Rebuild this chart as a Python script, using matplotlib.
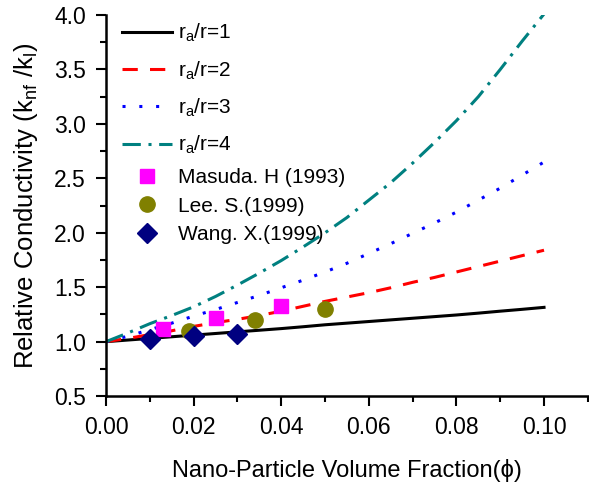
import matplotlib
matplotlib.use('Agg')
import matplotlib.pyplot as plt
from matplotlib.ticker import MultipleLocator, FormatStrFormatter

plt.rcParams['font.family'] = ['Liberation Sans', 'DejaVu Sans']
plt.rcParams['mathtext.fontset'] = 'custom'
plt.rcParams['mathtext.rm'] = 'Liberation Sans'
plt.rcParams['mathtext.it'] = 'Liberation Sans'

# model curves, values
phi = [0.000, 0.005, 0.010, 0.015, 0.020, 0.025, 0.030, 0.035, 0.040, 0.045, 0.050,
       0.055, 0.060, 0.065, 0.070, 0.075, 0.080, 0.085, 0.090, 0.095, 0.100]
k_ratio1 = [1.000, 1.015, 1.030, 1.045, 1.060, 1.075, 1.090, 1.105, 1.120, 1.137, 1.155,
            1.170, 1.185, 1.200, 1.215, 1.230, 1.245, 1.262, 1.280, 1.297, 1.315]
k_ratio2 = [1.000, 1.030, 1.065, 1.100, 1.140, 1.175, 1.205, 1.240, 1.280, 1.325, 1.370,
            1.410, 1.450, 1.495, 1.545, 1.590, 1.640, 1.690, 1.740, 1.790, 1.840]
k_ratio3 = [1.000, 1.050, 1.110, 1.170, 1.235, 1.295, 1.360, 1.425, 1.495, 1.565, 1.640,
            1.720, 1.810, 1.900, 1.995, 2.090, 2.190, 2.300, 2.410, 2.530, 2.650]
k_ratio4 = [1.000, 1.080, 1.165, 1.240, 1.320, 1.415, 1.520, 1.630, 1.745, 1.870, 2.000,
            2.140, 2.300, 2.460, 2.640, 2.830, 3.030, 3.250, 3.500, 3.760, 4.010]

# experimental points
masuda_phi = [0.013, 0.025, 0.040]
masuda_k = [1.12, 1.22, 1.33]
lee_phi = [0.019, 0.034, 0.050]
lee_k = [1.10, 1.20, 1.30]
wang_phi = [0.010, 0.020, 0.030]
wang_k = [1.02, 1.05, 1.07]

fig = plt.figure(figsize=(5.89, 4.86), dpi=100)
ax = fig.add_axes([0.18, 0.185, 0.818, 0.784])

lw = 2.2
l1, = ax.plot(phi, k_ratio1, color='black', lw=lw, label='r$_a$/r=1')
l2, = ax.plot(phi, k_ratio2, color='#ff0000', lw=lw, dashes=(5, 4), label='r$_a$/r=2')
l3, = ax.plot(phi, k_ratio3, color='#0000ff', lw=lw, dashes=(1, 4.5), label='r$_a$/r=3')
l4, = ax.plot(phi, k_ratio4, color='#008080', lw=lw, dashes=(6, 2.5, 1, 2.5), label='r$_a$/r=4')

m1, = ax.plot(masuda_phi, masuda_k, 's', color='#ff00ff', ms=10, ls='none', label='Masuda. H (1993)')
m2, = ax.plot(lee_phi, lee_k, 'o', color='#808000', ms=11, ls='none', label='Lee. S.(1999)')
m3, = ax.plot(wang_phi, wang_k, 'D', color='#000080', ms=10, ls='none', label='Wang. X.(1999)')

ax.set_xlim(0, 0.11)
ax.set_ylim(0.5, 4.0)
ax.xaxis.set_major_locator(MultipleLocator(0.02))
ax.xaxis.set_minor_locator(MultipleLocator(0.01))
ax.yaxis.set_major_locator(MultipleLocator(0.5))
ax.yaxis.set_minor_locator(MultipleLocator(0.25))
ax.xaxis.set_major_formatter(FormatStrFormatter('%.2f'))
ax.yaxis.set_major_formatter(FormatStrFormatter('%.1f'))

ax.spines['top'].set_visible(False)
ax.spines['right'].set_visible(False)
for s in ['left', 'bottom']:
    ax.spines[s].set_linewidth(1.8)
ax.tick_params(which='major', direction='out', length=7.5, width=1.5, labelsize=16.5, pad=7)
ax.tick_params(which='minor', direction='out', length=4.5, width=1.5)

ax.set_xlabel('Nano-Particle Volume Fraction(\u03d5)', fontsize=17, labelpad=14)
ax.set_ylabel('Relative Conductivity (k$_{nf}$ /k$_l$)', fontsize=18.5, labelpad=10)

# two legends so the line rows and the marker rows get their own spacing
leg1 = ax.legend(handles=[l1, l2, l3, l4], loc='upper left', bbox_to_anchor=(0.033, 0.982),
                 frameon=False, fontsize=15, handlelength=2.4, handletextpad=0.3,
                 borderpad=0, borderaxespad=0, labelspacing=0.72)
ax.add_artist(leg1)
ax.legend(handles=[m1, m2, m3], loc='upper left', bbox_to_anchor=(0.033, 0.598),
          frameon=False, fontsize=15, handlelength=2.4, handletextpad=0.3,
          borderpad=0, borderaxespad=0, labelspacing=0.45)

fig.savefig('out.png', dpi=100)
